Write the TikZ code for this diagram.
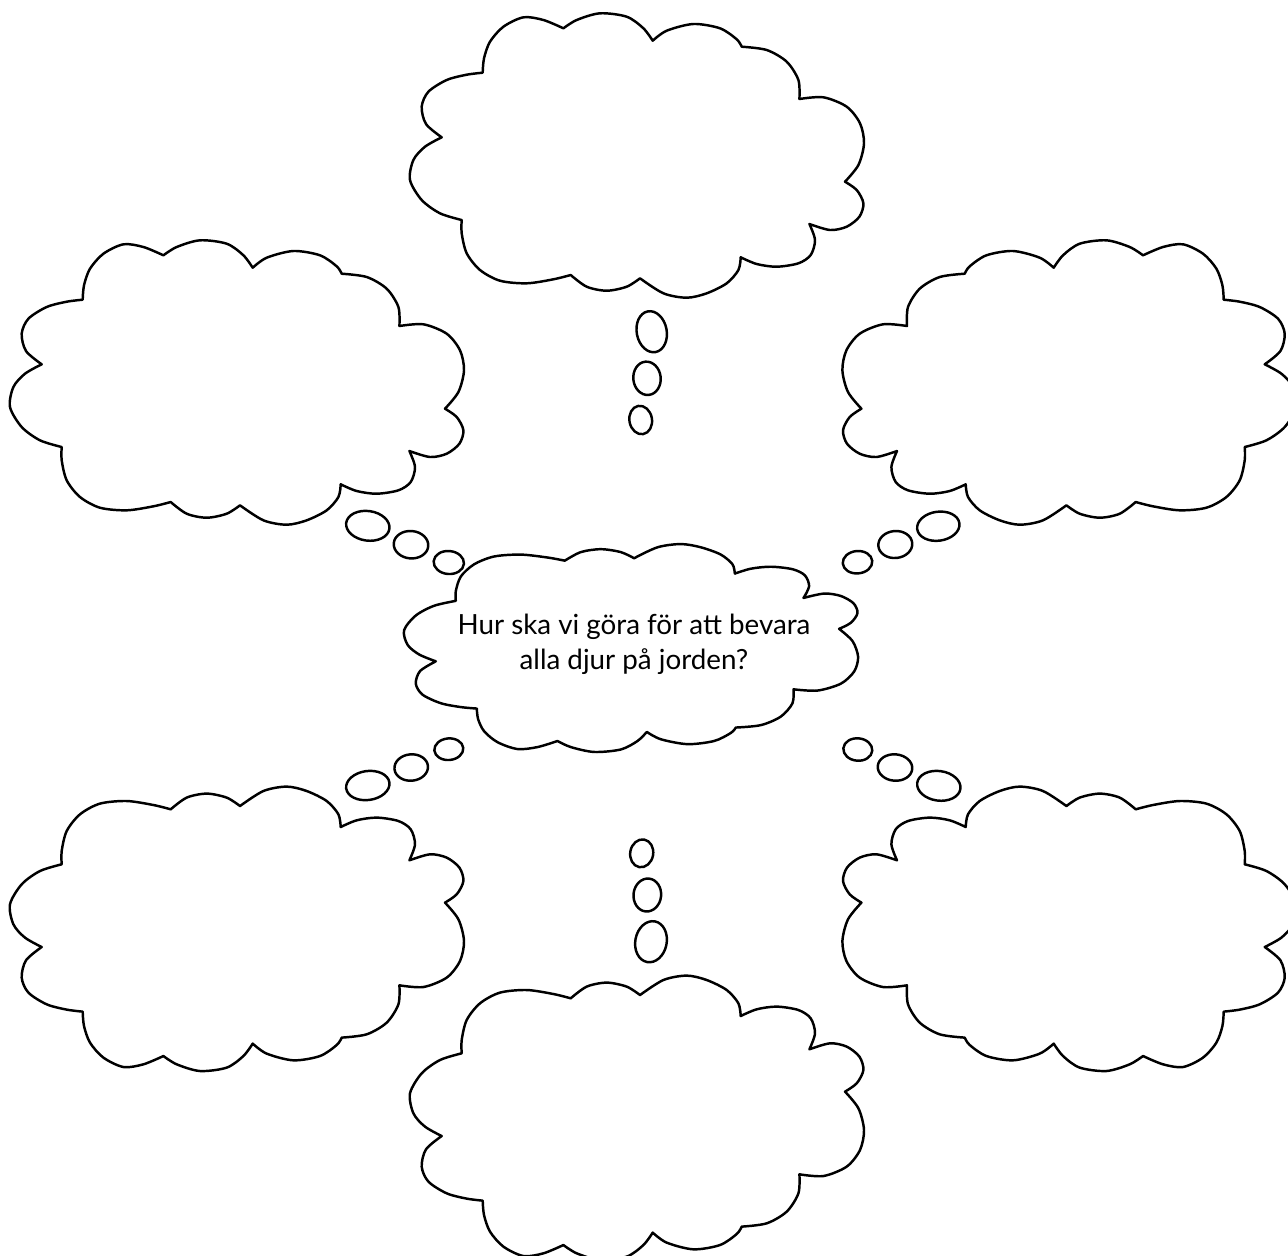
\documentclass[tikz,border=0pt]{standalone}
\usepackage{fontspec}
\setmainfont{Lato}

\tikzset{
  cloudline/.style={draw=black, fill=white, line width=0.7pt, line join=round},
  bubble/.style={draw=black, fill=white, line width=0.7pt},
  question/.style={align=center, font=\fontsize{7.9}{10}\selectfont}
}

% one cloud, centred at (0,0), 4.55 wide and 2.84 high
\newcommand{\drawcloud}[1]{%
  \draw[cloudline,#1]
    plot[smooth] coordinates {(-1.950,0.182) (-2.107,0.315) (-2.150,0.488) (-2.083,0.638) (-1.900,0.755) (-1.700,0.808) (-1.540,0.828)}
 -- plot[smooth] coordinates {(-1.540,0.828) (-1.527,0.972) (-1.467,1.138) (-1.333,1.288) (-1.133,1.382) (-0.933,1.355) (-0.733,1.272)}
 -- plot[smooth] coordinates {(-0.733,1.272) (-0.600,1.355) (-0.367,1.422) (-0.100,1.388) (0.067,1.272) (0.160,1.148)}
 -- plot[smooth] coordinates {(0.160,1.148) (0.300,1.248) (0.567,1.315) (0.833,1.272) (1.000,1.162) (1.050,1.088)}
 -- plot[smooth] coordinates {(1.050,1.088) (1.300,1.055) (1.500,0.938) (1.617,0.755) (1.627,0.565)}
 -- plot[smooth] coordinates {(1.627,0.565) (1.867,0.582) (2.100,0.488) (2.233,0.322) (2.273,0.122) (2.217,-0.095) (2.083,-0.262)}
 -- plot[smooth] coordinates {(2.083,-0.262) (2.200,-0.345) (2.267,-0.478) (2.227,-0.612) (2.100,-0.712) (1.933,-0.745) (1.727,-0.685)}
 -- plot[smooth] coordinates {(1.727,-0.685) (1.783,-0.845) (1.740,-0.995) (1.617,-1.078) (1.400,-1.112) (1.200,-1.085) (1.040,-1.018)}
 -- plot[smooth] coordinates {(1.040,-1.018) (1.017,-1.145) (0.900,-1.278) (0.700,-1.378) (0.500,-1.422) (0.267,-1.378) (0.033,-1.228)}
 -- plot[smooth] coordinates {(0.033,-1.228) (-0.100,-1.312) (-0.300,-1.352) (-0.500,-1.312) (-0.660,-1.195)}
 -- plot[smooth] coordinates {(-0.660,-1.195) (-0.833,-1.238) (-1.100,-1.278) (-1.367,-1.252) (-1.567,-1.145) (-1.700,-0.978) (-1.750,-0.778) (-1.750,-0.645)}
 -- plot[smooth] coordinates {(-1.750,-0.645) (-1.967,-0.578) (-2.150,-0.445) (-2.267,-0.245) (-2.233,-0.045) (-2.117,0.088) (-1.950,0.182)}
 -- cycle;}

\begin{document}
\begin{tikzpicture}
% Page frame
\useasboundingbox (0,0) rectangle (12.88,-12.55);
\clip (0,0) rectangle (12.88,-12.55);

% Six outer clouds and the middle one (centre / flips)
\foreach \cx/\cy/\sx/\sy in {6.367/-1.555/1/1, 2.367/-3.825/1/1, 10.697/-3.825/-1/1,
                             2.367/-9.288/1/-1, 10.697/-9.288/-1/-1, 6.367/-11.178/1/-1,
                             6.308/-6.480/1/-0.731} {
    \drawcloud{shift={(\cx,\cy)}, xscale=\sx, yscale=\sy}
}

% Thought bubbles between the clouds
\foreach \bx/\by/\bw/\bh/\ba in {
    6.517/-3.317/0.150/0.207/11, 6.470/-3.783/0.137/0.167/6, 6.407/-4.200/0.113/0.143/10,
    6.510/-9.417/0.157/0.207/-11, 6.473/-8.950/0.138/0.165/-6, 6.417/-8.533/0.115/0.140/-10,
    3.678/-5.258/0.218/0.148/-8, 4.110/-5.447/0.173/0.137/-5, 4.488/-5.625/0.152/0.115/-5,
    9.383/-5.262/0.213/0.145/8, 8.953/-5.445/0.170/0.135/5, 8.575/-5.622/0.148/0.112/5,
    3.678/-7.855/0.218/0.145/8, 4.112/-7.675/0.168/0.132/5, 4.488/-7.492/0.145/0.108/5,
    9.388/-7.858/0.218/0.148/-8, 8.950/-7.675/0.173/0.132/-5, 8.578/-7.495/0.145/0.112/-5} {
    \draw[bubble, shift={(\bx,\by)}, rotate=\ba] (0,0) ellipse [x radius=\bw, y radius=\bh];
}

% Question in the middle cloud
\node[question] (fraga) at (6.34,-6.446) {Hur ska vi göra för att bevara\\alla djur på jorden?};
\end{tikzpicture}
\end{document}
